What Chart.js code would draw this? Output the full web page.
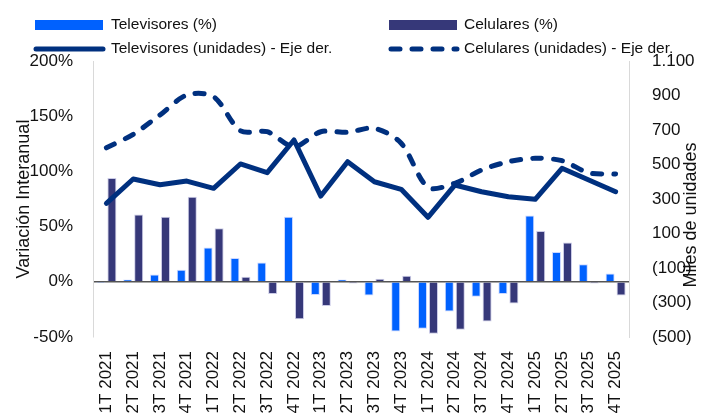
<!DOCTYPE html>
<html>
<head>
<meta charset="utf-8">
<script src="https://cdn.jsdelivr.net/npm/chart.js@4.4.1/dist/chart.umd.min.js"></script>
<style>
  html, body { margin: 0; padding: 0; background: #fff; }
  #wrap { width: 714px; height: 417px; position: relative; }
</style>
</head>
<body>
<div id="wrap"><canvas id="chart"></canvas></div>
<script>
// datos
const categories = ['1T 2021', '2T 2021', '3T 2021', '4T 2021', '1T 2022', '2T 2022', '3T 2022', '4T 2022',
  '1T 2023', '2T 2023', '3T 2023', '4T 2023', '1T 2024', '2T 2024', '3T 2024', '4T 2024',
  '1T 2025', '2T 2025', '3T 2025', '4T 2025'];
const tvPct = [-1, 2, 6.5, 11, 31, 21.5, 17.5, 59, -12, 2, -12.5, -45, -42.5, -27, -13.5, -11, 60, 27, 16, 7.5];
const celPct = [94, 61, 59, 77, 48.5, 4.5, -11, -34, -22, -1.5, 2.7, 5.4, -47, -43.5, -36, -19.6, 46, 35.5, -1.5, -12.4];
const tvUnits = [275, 416, 383, 404, 362, 503, 453, 642, 317, 516, 400, 356, 194, 381, 342, 313, 298, 478, 410, 342];
const celUnits = [597, 675, 787, 903, 893, 696, 690, 603, 690, 687, 710, 623, 368, 391, 468, 516, 536, 522, 452, 445];
const leftTicks = [-50, 0, 50, 100, 150, 200];
const rightTicks = [-500, -300, -100, 100, 300, 500, 700, 900, 1100];

const TV_BAR = '#0061FE';
const CEL_BAR = '#363879';
const LINE = '#00307F';
const FONT = '"Liberation Sans", Arial, sans-serif';

// leyenda y titulos de ejes dibujados a mano
const extras = {
  id: 'extras',
  afterDraw(chart) {
    const ctx = chart.ctx;
    ctx.save();
    // cajas de barras
    ctx.fillStyle = TV_BAR;
    ctx.fillRect(35, 20, 68, 10);
    ctx.fillStyle = CEL_BAR;
    ctx.fillRect(389, 20, 68, 10);
    // lineas
    ctx.strokeStyle = LINE;
    ctx.lineWidth = 5;
    ctx.lineCap = 'round';
    ctx.beginPath(); ctx.moveTo(36, 49); ctx.lineTo(103, 49); ctx.stroke();
    ctx.setLineDash([9, 12]);
    ctx.beginPath(); ctx.moveTo(391, 49); ctx.lineTo(457, 49); ctx.stroke();
    ctx.setLineDash([]);

    // textos de leyenda
    ctx.fillStyle = '#111';
    ctx.textBaseline = 'middle';
    ctx.font = '15.5px ' + FONT;
    ctx.fillText('Televisores (%)', 111, 25);
    ctx.fillText('Celulares (%)', 464, 25);
    ctx.fillText('Televisores (unidades) - Eje der.', 111, 49);
    ctx.fillText('Celulares (unidades) - Eje der.', 464, 49);

    // titulos de ejes
    ctx.font = '18px ' + FONT;
    ctx.textAlign = 'center';
    ctx.save(); ctx.translate(24, 199); ctx.rotate(-Math.PI / 2); ctx.fillText('Variación Interanual', 0, 0); ctx.restore();
    ctx.save(); ctx.translate(691, 215); ctx.rotate(-Math.PI / 2); ctx.fillText('Miles de unidades', 0, 0); ctx.restore();
    ctx.restore();
  }
};

new Chart(document.getElementById('chart'), {
  data: {
    labels: categories,
    datasets: [
      { type: 'line', label: 'Televisores (unidades) - Eje der.', data: tvUnits, yAxisID: 'y1',
        borderColor: LINE, borderWidth: 5, pointRadius: 0, tension: 0, order: 0,
        borderCapStyle: 'round', borderJoinStyle: 'round' },
      { type: 'line', label: 'Celulares (unidades) - Eje der.', data: celUnits, yAxisID: 'y1',
        borderColor: LINE, borderWidth: 5, pointRadius: 0, tension: 0.3, order: 0,
        borderDash: [9, 12], borderCapStyle: 'round', borderJoinStyle: 'round' },
      { type: 'bar', label: 'Televisores (%)', data: tvPct, yAxisID: 'y', backgroundColor: TV_BAR,
        borderColor: 'rgba(190,205,255,0.8)', borderWidth: 1,
        barPercentage: 0.82, categoryPercentage: 0.82, order: 1 },
      { type: 'bar', label: 'Celulares (%)', data: celPct, yAxisID: 'y', backgroundColor: CEL_BAR,
        borderColor: 'rgba(190,190,225,0.8)', borderWidth: 1,
        barPercentage: 0.82, categoryPercentage: 0.82, order: 1 }
    ]
  },
  options: {
    responsive: true,
    maintainAspectRatio: false,
    animation: false,
    layout: { padding: { top: 61, bottom: 0, left: 0, right: 0 } },
    plugins: { legend: { display: false }, tooltip: { enabled: false } },
    scales: {
      x: {
        grid: { display: false },
        border: { display: false },
        ticks: { color: '#111', font: { size: 17, family: FONT }, maxRotation: 90, minRotation: 90, padding: 6, autoSkip: false },
        afterFit(s) { s.height = 80; }
      },
      y: {
        position: 'left',
        min: -50, max: 200,
        afterBuildTicks(s) { s.ticks = leftTicks.map(v => ({ value: v })); },
        grid: { drawTicks: false, color: c => c.tick && c.tick.value === 0 ? '#555' : 'rgba(0,0,0,0)', lineWidth: 1.5 },
        border: { display: true, color: '#d9d9d9' },
        ticks: { color: '#111', font: { size: 17, family: FONT }, padding: 20, callback: v => v + '%' },
        afterFit(s) { s.width = 93; }
      },
      y1: {
        position: 'right',
        min: -500, max: 1100,
        afterBuildTicks(s) { s.ticks = rightTicks.map(v => ({ value: v })); },
        grid: { display: false, drawTicks: false },
        border: { display: true, color: '#d9d9d9' },
        ticks: {
          color: '#111', font: { size: 17, family: FONT }, padding: 23,
          callback: v => v < 0 ? '(' + Math.abs(v) + ')' : (v >= 1000 ? '1.' + String(v).slice(1) : String(v))
        },
        afterFit(s) { s.width = 85; }
      }
    }
  },
  plugins: [extras]
});
</script>
</body>
</html>
